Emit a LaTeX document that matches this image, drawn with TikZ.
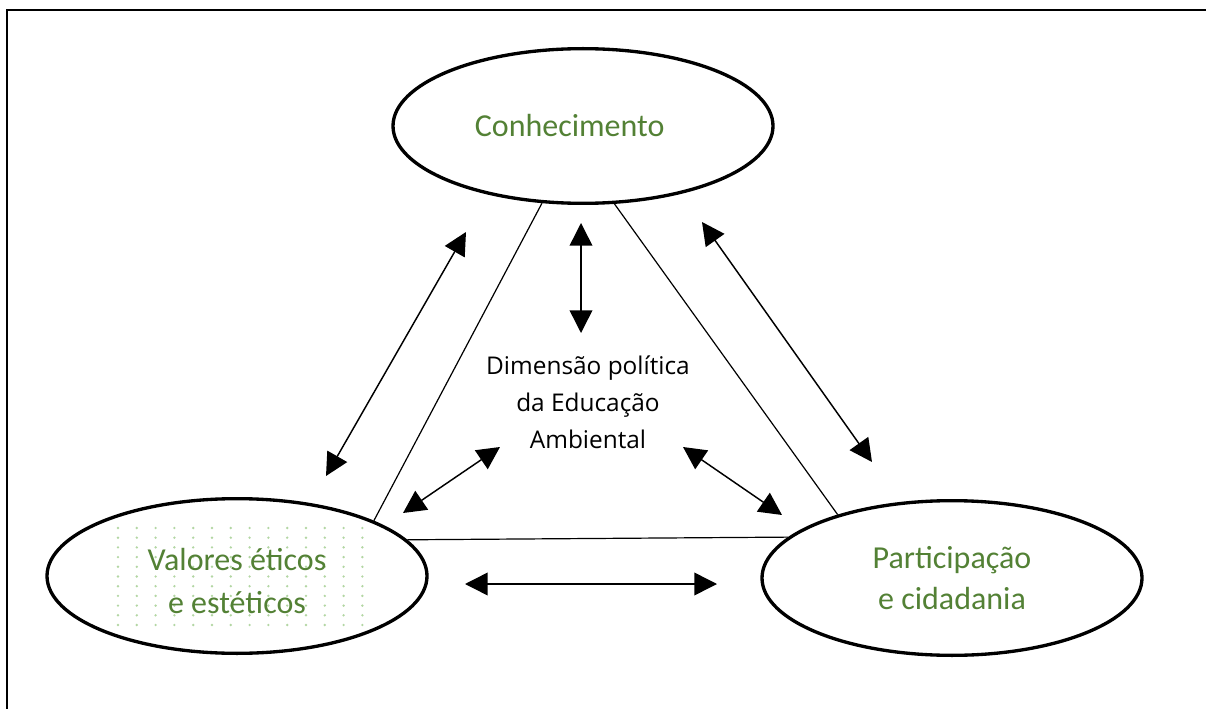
\documentclass[tikz,border=0pt]{standalone}
\usepackage{fontspec}
\setmainfont{Carlito}
\newfontfamily\centrefont{Open Sans}
\usetikzlibrary{shapes.geometric,arrows.meta}
\definecolor{eagreen}{HTML}{538135}
\definecolor{eadot}{HTML}{B3D6A3}
\tikzset{
    pillar/.style={
        ellipse,
        draw,
        line width=2.5pt,
        minimum width=285pt,
        minimum height=116pt,
        align=center,
        text=eagreen,
        font=\fontsize{24}{31}\selectfont
    },
    link/.style={
        line width=0.9pt
    },
    exchange/.style={
        line width=1.1pt,
        {Triangle[length=17pt,width=17pt]}-{Triangle[length=17pt,width=17pt]}
    }
}

\begin{document}
\begin{tikzpicture}[x=0.75pt,y=-0.75pt]
\useasboundingbox (0,0) rectangle (1206,709);
\draw[line width=1.6pt] (1206,10) -| (7,709);

\foreach \i in {0,...,13}
    \foreach \j in {0,...,10}
        \fill[eadot] (118+18.8*\i,528+9.7*\j) circle (1pt);

\node[pillar] (know) at (583,126) {\hspace*{-20pt}Conhecimento};
\node[pillar] (values) at (237,576) {\raisebox{-12pt}[0pt][0pt]{\begin{tabular}{@{}c@{}}Valores éticos\\[1pt]e estéticos\end{tabular}}};
\node[pillar] (civic) at (952,578) {Participação\\e cidadania};
\node[align=center, font=\centrefont\fontsize{18.3}{27.8}\selectfont] (core) at (588,402)
    {Dimensão política\\da Educação\\Ambiental};

\draw[link] (know.242.6) -- (values.22.2);
\draw[link] (know.292.8) -- (civic.151);
\draw[link] (values.12.9) -- (civic.166.3);

\coordinate (kv1) at (466,232);
\coordinate (kv2) at (326,476);
\coordinate (kc1) at (702,222);
\coordinate (kc2) at (872,462);
\coordinate (kd1) at (581,223);
\coordinate (kd2) at (581,333);
\coordinate (vd1) at (403,513);
\coordinate (vd2) at (500,447);
\coordinate (cd1) at (782,515);
\coordinate (cd2) at (683,447);
\coordinate (vc1) at (465,584);
\coordinate (vc2) at (717,584);

\draw[exchange] (kv1) -- (kv2);
\draw[exchange] (kc1) -- (kc2);
\draw[exchange] (kd1) -- (kd2);
\draw[exchange] (vd1) -- (vd2);
\draw[exchange] (cd1) -- (cd2);
\draw[exchange] (vc1) -- (vc2);
\end{tikzpicture}
\end{document}
